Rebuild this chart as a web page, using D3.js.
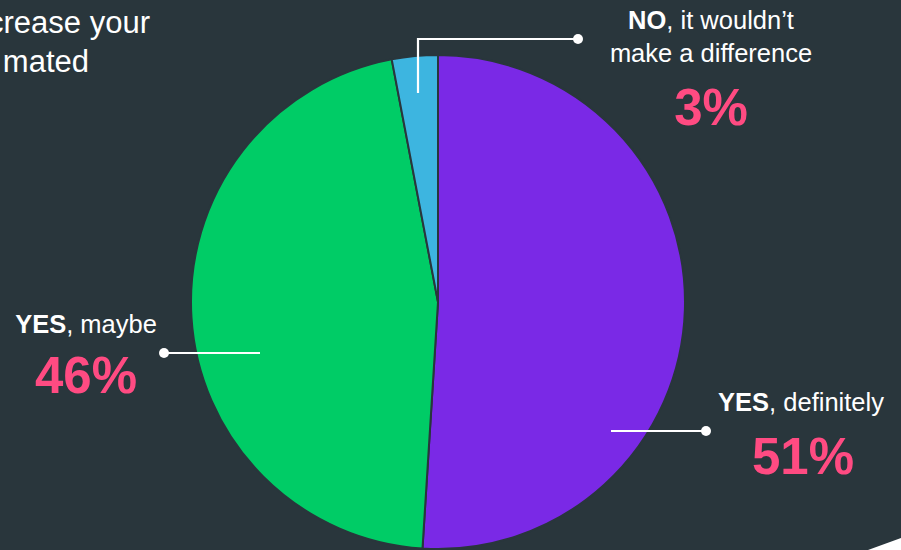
<!DOCTYPE html>
<html>
<head>
<meta charset="utf-8">
<script src="https://cdn.jsdelivr.net/npm/d3@7"></script>
<style>
  html, body { margin: 0; padding: 0; background: #29363c; }
  svg { display: block; }
  text { font-family: "Liberation Sans", Arial, Helvetica, sans-serif; }
</style>
</head>
<body>
<svg id="chart" width="901" height="550"></svg>
<script>
// Survey answers, in drawing order (clockwise from 12 o'clock)
const categories = ["YES, definitely", "YES, maybe", "NO, it wouldn't make a difference"];
const values = [51, 46, 3];
const sliceColors = ["#7a29e6", "#00cc66", "#3db5e0"];

// Label text: bold lead word, then the regular remainder (split into lines)
const leadWords = ["YES", "YES", "NO"];
const labelLines = [[", definitely"], [", maybe"], [", it wouldn\u2019t", "make a difference"]];

// Title fragment shown in the top-left corner
const titleLines = ["crease your", "mated"];

const W = 901, H = 550;
const bg = "#29363c";
const pink = "#ff4b82";
const cx = 438, cy = 302, R = 247;

const svg = d3.select("#chart");

svg.append("rect").attr("width", W).attr("height", H).attr("fill", bg);

// light panel edge peeking in at the bottom-right corner
svg.append("path")
  .attr("d", d3.line()([[868, 550], [901, 538], [901, 550]]) + "Z")
  .attr("fill", "#ffffff");

// Title fragment
svg.append("g").selectAll("text").data(titleLines).join("text")
  .attr("x", (d, i) => i === 0 ? 150 : 89)
  .attr("y", (d, i) => 33 + i * 39)
  .attr("text-anchor", "end")
  .attr("font-size", 31)
  .attr("fill", "#ffffff")
  .text(d => d);

// Pie
const pie = d3.pie().sort(null).value(d => d);
const arc = d3.arc().innerRadius(0).outerRadius(R);

const g = svg.append("g").attr("transform", `translate(${cx},${cy})`);
g.selectAll("path").data(pie(values)).join("path")
  .attr("d", arc)
  .attr("fill", (d, i) => sliceColors[i])
  .attr("stroke", bg)
  .attr("stroke-width", 2)
  .attr("stroke-linejoin", "round");

// Annotation layout: leader polyline (pixel coords), label centre and baselines
const layout = [
  { leader: [[611, 431], [706, 431]], x: 801, y: 411, lineGap: 33, pctY: 474 },
  { leader: [[260, 353], [164, 353]], x: 86, y: 333, lineGap: 33, pctY: 393 },
  { leader: [[418, 93], [418, 39], [578, 39]], x: 711, y: 29, lineGap: 33, pctY: 125 }
];

const ann = svg.append("g");
values.forEach((v, i) => {
  const L = layout[i];
  ann.append("path")
    .attr("d", d3.line()(L.leader))
    .attr("fill", "none")
    .attr("stroke", "#ffffff")
    .attr("stroke-width", 2.2);
  const end = L.leader[L.leader.length - 1];
  ann.append("circle")
    .attr("cx", end[0]).attr("cy", end[1]).attr("r", 5)
    .attr("fill", "#ffffff");

  labelLines[i].forEach((line, j) => {
    const t = ann.append("text")
      .attr("x", L.x)
      .attr("y", L.y + j * L.lineGap)
      .attr("text-anchor", "middle")
      .attr("font-size", 25.5)
      .attr("fill", "#ffffff");
    if (j === 0) t.append("tspan").attr("font-weight", "bold").text(leadWords[i]);
    t.append("tspan").text(line);
  });

  ann.append("text")
    .attr("x", L.x + (i === 0 ? 2 : 0))
    .attr("y", L.pctY)
    .attr("text-anchor", "middle")
    .attr("font-size", 51)
    .attr("font-weight", "bold")
    .attr("fill", pink)
    .text(v + "%");
});
</script>
</body>
</html>
